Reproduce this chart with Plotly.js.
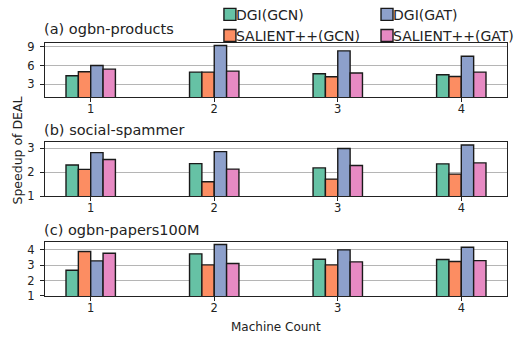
<!DOCTYPE html>
<html>
<head>
<meta charset="utf-8">
<script src="https://cdn.plot.ly/plotly-3.0.1.min.js"></script>
<style>html,body{margin:0;padding:0;background:#fff;}#chart{width:532px;height:337px;}</style>
</head>
<body>
<div id="chart"></div>
<script>
// ---- data ----
const machines = [1, 2, 3, 4];
const seriesNames = ["DGI(GCN)", "SALIENT++(GCN)", "DGI(GAT)", "SALIENT++(GAT)"];
const panelTitles = ["(a) ogbn-products", "(b) social-spammer", "(c) ogbn-papers100M"];

// (a) ogbn-products
const productsDgiGcn = [4.38, 4.96, 4.70, 4.54];
const productsSalGcn = [5.02, 4.96, 4.22, 4.27];
const productsDgiGat = [6.03, 9.21, 8.36, 7.51];
const productsSalGat = [5.44, 5.12, 4.81, 4.96];
// (b) social-spammer
const spammerDgiGcn = [2.30, 2.36, 2.18, 2.35];
const spammerSalGcn = [2.12, 1.60, 1.71, 1.92];
const spammerDgiGat = [2.82, 2.86, 2.99, 3.14];
const spammerSalGat = [2.53, 2.13, 2.28, 2.39];
// (c) ogbn-papers100M
const papersDgiGcn = [2.67, 3.74, 3.39, 3.37];
const papersSalGcn = [3.89, 3.02, 3.02, 3.24];
const papersDgiGat = [3.28, 4.35, 4.00, 4.17];
const papersSalGat = [3.78, 3.11, 3.22, 3.30];

const yTicksA = [3, 6, 9];
const yTicksB = [1, 2, 3];
const yTicksC = [1, 2, 3, 4];

// ---- style ----
const colors = ["#66c2a5", "#fc8d62", "#8da0cb", "#e78ac3"];
const legendRefs = ["legend", "legend", "legend2", "legend2"];
const FONT = "DejaVu Sans";

const panels = [
  {vals: [productsDgiGcn, productsSalGcn, productsDgiGat, productsSalGat], ticks: yTicksA},
  {vals: [spammerDgiGcn, spammerSalGcn, spammerDgiGat, spammerSalGat], ticks: yTicksB},
  {vals: [papersDgiGcn, papersSalGcn, papersDgiGat, papersSalGat], ticks: yTicksC}
];

const traces = [];
panels.forEach((p, pi) => {
  p.vals.forEach((v, si) => {
    traces.push({
      type: "bar",
      x: machines,
      y: v,
      name: seriesNames[si],
      marker: {color: colors[si], line: {color: "#1a1a1a", width: 1.4}},
      xaxis: pi === 0 ? "x" : "x" + (pi + 1),
      yaxis: pi === 0 ? "y" : "y" + (pi + 1),
      showlegend: pi === 0,
      legend: legendRefs[si],
      hoverinfo: "skip"
    });
  });
});

function yRange(vals) {
  const mx = Math.max(...vals.flat());
  return [1, mx + (mx - 1) * 0.05];
}

const domains = [[0.787, 1], [0.395, 0.607], [0, 0.214]];
const layout = {
  width: 532, height: 337,
  margin: {l: 45, r: 25, t: 43, b: 41, autoexpand: false},
  paper_bgcolor: "#fff", plot_bgcolor: "#fff",
  font: {family: FONT, size: 12, color: "#222"},
  barmode: "group", bargap: 0.6, bargroupgap: 0,
  showlegend: true,
  legend: {x: 0.357, xanchor: "left", y: 1.175, yanchor: "top", bgcolor: "rgba(0,0,0,0)",
           font: {family: FONT, size: 14, color: "#222"}, tracegroupgap: 0},
  legend2: {x: 0.697, xanchor: "left", y: 1.175, yanchor: "top", bgcolor: "rgba(0,0,0,0)",
            font: {family: FONT, size: 14, color: "#222"}, tracegroupgap: 0},
  annotations: []
};

panels.forEach((p, pi) => {
  const xk = pi === 0 ? "xaxis" : "xaxis" + (pi + 1);
  const yk = pi === 0 ? "yaxis" : "yaxis" + (pi + 1);
  const yref = pi === 0 ? "y" : "y" + (pi + 1);
  layout[xk] = {
    domain: [0, 1], anchor: yref, range: [0.63, 4.37],
    tickvals: machines, ticktext: machines.map(String),
    ticks: "outside", ticklen: 4, tickwidth: 1, tickcolor: "#222",
    ticklabelstandoff: -3,
    showline: true, mirror: true, linecolor: "#222", linewidth: 1.2,
    showgrid: false, zeroline: false,
    tickfont: {family: FONT, size: 11.5, color: "#222"}
  };
  layout[yk] = {
    domain: domains[pi], anchor: pi === 0 ? "x" : "x" + (pi + 1),
    range: yRange(p.vals),
    tickvals: p.ticks, ticktext: p.ticks.map(String),
    ticks: "outside", ticklen: 4, tickwidth: 1, tickcolor: "#222",
    ticklabelstandoff: 3,
    showline: true, mirror: true, linecolor: "#222", linewidth: 1.2,
    showgrid: true, gridcolor: "#b5b5b5", gridwidth: 1, zeroline: false,
    tickfont: {family: FONT, size: 11.5, color: "#222"}
  };
  layout.annotations.push({
    text: panelTitles[pi], xref: "paper", x: 0, xanchor: "left", xshift: -3,
    yref: yref + " domain", y: 1, yanchor: "bottom", yshift: pi === 0 ? 4 : 2,
    showarrow: false, font: {family: FONT, size: 14.5, color: "#222"}
  });
});

layout.annotations.push({
  text: "Speedup of DEAL", xref: "paper", x: -0.0595, xanchor: "center",
  yref: "paper", y: 0.573, yanchor: "middle", textangle: -90,
  showarrow: false, font: {family: FONT, size: 12.5, color: "#222"}
});
layout.annotations.push({
  text: "Machine Count", xref: "paper", x: 0.5, xanchor: "center",
  yref: "paper", y: -0.1225, yanchor: "middle",
  showarrow: false, font: {family: FONT, size: 12, color: "#222"}
});

// tighten the gap between legend swatch and label (idempotent, both legends)
function tightenLegend() {
  document.querySelectorAll("#chart text.legendtext, #chart text.legend2text").forEach(t => {
    t.setAttribute("x", 26);
    t.querySelectorAll("tspan[x]").forEach(s => s.setAttribute("x", 26));
  });
}

Plotly.newPlot("chart", traces, layout, {staticPlot: true, displayModeBar: false}).then(gd => {
  tightenLegend();
  setTimeout(tightenLegend, 50);
});
</script>
</body>
</html>
